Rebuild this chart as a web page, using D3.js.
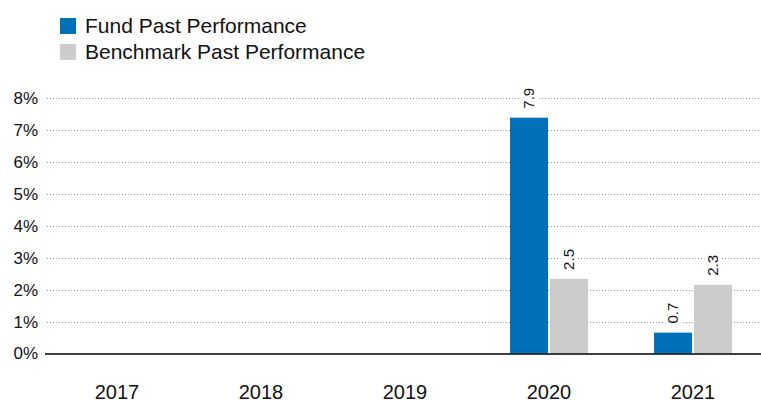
<!DOCTYPE html>
<html>
<head>
<meta charset="utf-8">
<script src="https://cdn.jsdelivr.net/npm/d3@7"></script>
<style>
  body { margin: 0; background: #fff; }
  svg { display: block; font-family: "Liberation Sans", Arial, sans-serif; }
</style>
</head>
<body>
<div id="chart"></div>
<script>
const years = ["2017", "2018", "2019", "2020", "2021"];
const fundValues = [null, null, null, 7.9, 0.7];
const benchValues = [null, null, null, 2.5, 2.3];
const seriesNames = ["Fund Past Performance", "Benchmark Past Performance"];
const seriesColors = ["#0071b9", "#cccccc"];
const yTicks = [0, 1, 2, 3, 4, 5, 6, 7, 8];

const width = 761, height = 402;
const plotLeft = 45, plotRight = 765, plotTop = 98.3, plotBottom = 353.5;

const svg = d3.select("#chart").append("svg")
  .attr("width", width)
  .attr("height", height);

// scales
const x = d3.scaleBand().domain(years).range([plotLeft, plotRight]).padding(0);
const y = d3.scaleLinear().domain([0, 8]).range([plotBottom, plotTop]);
// bars in the original are drawn on a slightly compressed scale
const yBar = d3.scaleLinear().domain([0, 8.55]).range([plotBottom, plotTop]);

// gridlines
svg.append("g")
  .selectAll("line")
  .data(yTicks.filter((d) => d > 0))
  .enter()
  .append("line")
  .attr("x1", plotLeft + 2)
  .attr("x2", width)
  .attr("y1", (d) => Math.round(y(d)) + 0.5)
  .attr("y2", (d) => Math.round(y(d)) + 0.5)
  .attr("stroke", "#999")
  .attr("stroke-width", 1)
  .attr("stroke-dasharray", "1,2");

// y labels
svg.append("g")
  .selectAll("text")
  .data(yTicks)
  .enter()
  .append("text")
  .attr("x", 38)
  .attr("y", (d) => y(d))
  .attr("dy", "0.35em")
  .attr("text-anchor", "end")
  .attr("font-size", "17px")
  .attr("fill", "#111")
  .text((d) => d + "%");

// bars
const groups = svg.append("g")
  .selectAll("g")
  .data(years.map((yr, i) => ({ year: yr, vals: [fundValues[i], benchValues[i]] })))
  .enter()
  .append("g")
  .attr("transform", (d) => "translate(" + (x(d.year) + x.bandwidth() / 2) + ",0)");

groups.selectAll("rect")
  .data((d) => d.vals.map((v, j) => ({ v: v, j: j })).filter((e) => e.v !== null))
  .enter()
  .append("rect")
  .attr("x", (e) => e.j === 0 ? -39 : 1)
  .attr("width", 38)
  .attr("y", (e) => yBar(e.v))
  .attr("height", (e) => plotBottom - yBar(e.v))
  .attr("fill", (e) => seriesColors[e.j]);

// value labels, rotated, with white halo that cuts the gridlines
groups.selectAll("text")
  .data((d) => d.vals.map((v, j) => ({ v: v, j: j })).filter((e) => e.v !== null))
  .enter()
  .append("text")
  .attr("transform", (e) => "translate(" + (e.j === 0 ? -20 : 20) + "," + (yBar(e.v) - 9) + ") rotate(-90)")
  .attr("dy", "0.35em")
  .attr("font-size", "15px")
  .attr("fill", "#111")
  .attr("stroke", "#fff")
  .attr("stroke-width", 7)
  .attr("paint-order", "stroke")
  .text((e) => e.v.toFixed(1));

// zero axis line
svg.append("line")
  .attr("x1", plotLeft)
  .attr("x2", width)
  .attr("y1", plotBottom + 0.5)
  .attr("y2", plotBottom + 0.5)
  .attr("stroke", "#000")
  .attr("stroke-width", 1.5);

// x labels
svg.append("g")
  .selectAll("text")
  .data(years)
  .enter()
  .append("text")
  .attr("x", (d) => x(d) + x.bandwidth() / 2)
  .attr("y", 399)
  .attr("text-anchor", "middle")
  .attr("font-size", "20px")
  .attr("fill", "#111")
  .text((d) => d);

// legend
const legend = svg.append("g")
  .selectAll("g")
  .data(seriesNames)
  .enter()
  .append("g")
  .attr("transform", (d, i) => "translate(60," + (18 + i * 26) + ")");

legend.append("rect")
  .attr("width", 16)
  .attr("height", 16)
  .attr("fill", (d, i) => seriesColors[i]);

legend.append("text")
  .attr("x", 25)
  .attr("y", 8)
  .attr("dy", "0.35em")
  .attr("font-size", "21px")
  .attr("fill", "#111")
  .text((d) => d);
</script>
</body>
</html>
